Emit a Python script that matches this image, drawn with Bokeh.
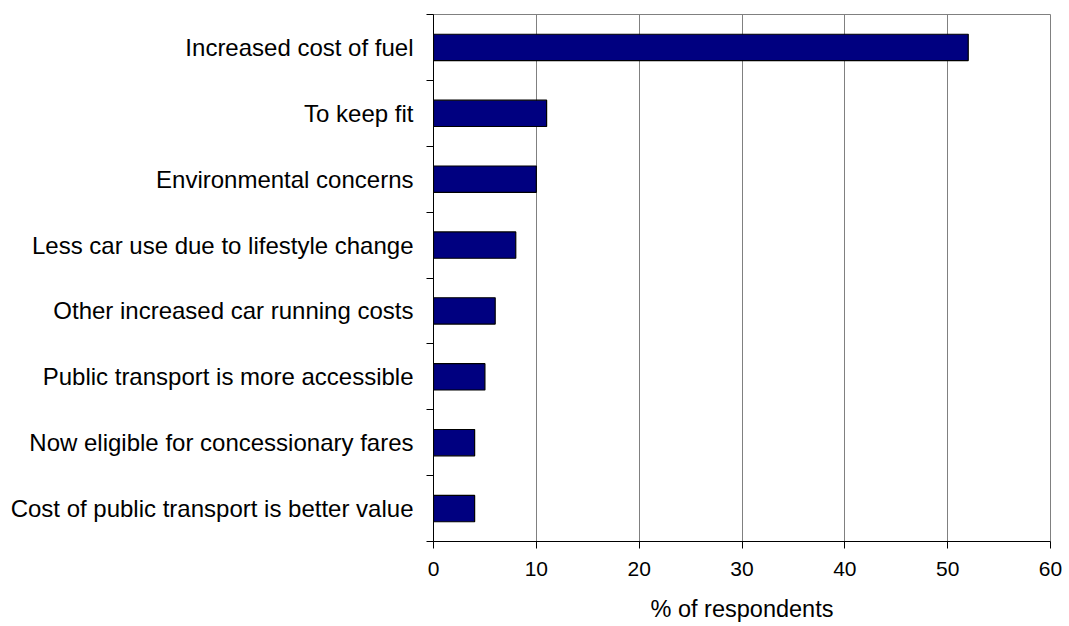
from bokeh.plotting import figure
from bokeh.models import FixedTicker, Range1d
from bokeh.embed import file_html
from bokeh.resources import INLINE

# Reasons for increased use of public transport (top of list first)
reasons = [
    "Increased cost of fuel",
    "To keep fit",
    "Environmental concerns",
    "Less car use due to lifestyle change",
    "Other increased car running costs",
    "Public transport is more accessible",
    "Now eligible for concessionary fares",
    "Cost of public transport is better value",
]
percent = [52, 11, 10, 8, 6, 5, 4, 4]
x_ticks = [0, 10, 20, 30, 40, 50, 60]

n = len(reasons)
# first reason at the top of the chart
positions = [n - 0.5 - i for i in range(n)]

FONT = "Liberation Sans"

p = figure(
    width=1069, height=626,
    x_range=Range1d(0, 60), y_range=Range1d(0, n),
    output_backend="svg", toolbar_location=None,
    min_border_left=433, min_border_right=19,
    min_border_top=14, min_border_bottom=85,
)
p.background_fill_color = "white"
p.border_fill_color = "white"
p.outline_line_color = "#808080"
p.outline_line_width = 1

p.hbar(y=positions, right=percent, left=0, height=0.4,
       fill_color="#000080", line_color="black", line_width=1.2)

# x axis
p.xaxis.ticker = FixedTicker(ticks=x_ticks)
p.xaxis.axis_label = "% of respondents"
p.xaxis.axis_label_text_font = FONT
p.xaxis.axis_label_text_font_size = "23.5px"
p.xaxis.axis_label_text_font_style = "normal"
p.xaxis.axis_label_text_color = "black"
p.xaxis.axis_label_standoff = 17
p.xaxis.major_label_text_font = FONT
p.xaxis.major_label_text_font_size = "21px"
p.xaxis.major_label_text_color = "black"
p.xaxis.major_label_standoff = 13
p.xaxis.major_tick_out = 7
p.xaxis.major_tick_in = 0
p.xaxis.minor_tick_line_color = None
p.xaxis.axis_line_color = "black"
p.xaxis.major_tick_line_color = "black"

# y axis: labels centred on bars, ticks between categories
p.yaxis.ticker = FixedTicker(ticks=positions, minor_ticks=list(range(n + 1)))
p.yaxis.major_label_overrides = {pos: lab for pos, lab in zip(positions, reasons)}
p.yaxis.major_label_text_font = FONT
p.yaxis.major_label_text_font_size = "24px"
p.yaxis.major_label_text_color = "black"
p.yaxis.major_tick_line_color = None
p.yaxis.major_tick_out = 0
p.yaxis.major_tick_in = 0
p.yaxis.minor_tick_out = 7
p.yaxis.minor_tick_in = 0
p.yaxis.minor_tick_line_color = "black"
p.yaxis.major_label_standoff = 13
p.yaxis.axis_line_color = "black"

p.xgrid.ticker = FixedTicker(ticks=x_ticks)
p.xgrid.grid_line_color = "#808080"
p.ygrid.grid_line_color = None

open("out.html", "w").write(file_html(p, INLINE))
